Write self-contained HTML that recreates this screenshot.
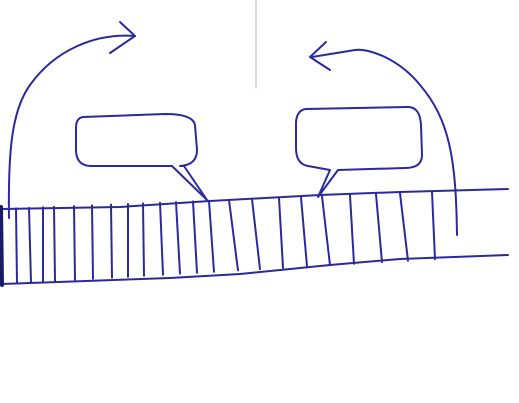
<!DOCTYPE html>
<html><head><meta charset="utf-8"><style>
html,body{margin:0;padding:0;background:#fff;width:519px;height:403px;overflow:hidden}
svg{display:block}
</style></head><body>
<svg width="519" height="403" viewBox="0 0 519 403" fill="none" stroke="#2b2a9c" stroke-width="2" stroke-linecap="round" stroke-linejoin="round">
<line x1="256" y1="0" x2="256" y2="88" stroke="#bbb" stroke-width="1"/>
<g>
<path d="M2,209 L120,207 L210,201 L320,195 L400,192 L508,189"/>
<path d="M2,284 L170,278 L240,274 L330,265 L400,259 L508,255"/>
<path d="M1,207 L2,285" stroke="#1a1a6a" stroke-width="4"/>
<g id="stripes"></g>
</g>
<g>
<path d="M9,218 C8,150 12,110 30,85 C55,50 95,33 135,36"/>
<path d="M120,22 L135,36 L110,53"/>
</g>
<g>
<path d="M457,235 C456,160 450,120 420,85 C400,60 370,48 355,50 L312,57"/>
<path d="M326,42 L310,57 L330,70"/>
</g>
<g>
<path d="M83,117 L165,114 Q193,114 195,125 L197,150 Q197,165 180,166 L184,166 L207,200 L172,166 L90,166 Q76,165 76,150 L76,128 Q76,118 83,117 Z"/>
</g>
<g>
<path d="M306,109 L408,107 Q420,107 421,125 L422,155 Q422,168 405,168 L338,170 L318,197 L330,170 L308,166 Q296,164 296,148 L296,122 Q297,110 306,109 Z"/>
</g>
</svg>
<script>
const stripeTop=[16,29,43,54,74,92,111,128,143,160,176,193,209,229,252,279,301,322,350,376,400,432];
const stripeBottom=[17,31,43,55,75,93,112,128,144,163,180,197,214,238,260,283,307,330,354,382,408,435];
const g=document.getElementById('stripes');
function yTop(x){return 209-x*20/508;}
function yBot(x){return 284-x*29/508;}
stripeTop.forEach((x,i)=>{
 const l=document.createElementNS('http://www.w3.org/2000/svg','line');
 l.setAttribute('x1',x);l.setAttribute('y1',yTop(x));
 l.setAttribute('x2',stripeBottom[i]);l.setAttribute('y2',yBot(stripeBottom[i]));
 
 
 g.appendChild(l);
});
</script>
</body></html>
